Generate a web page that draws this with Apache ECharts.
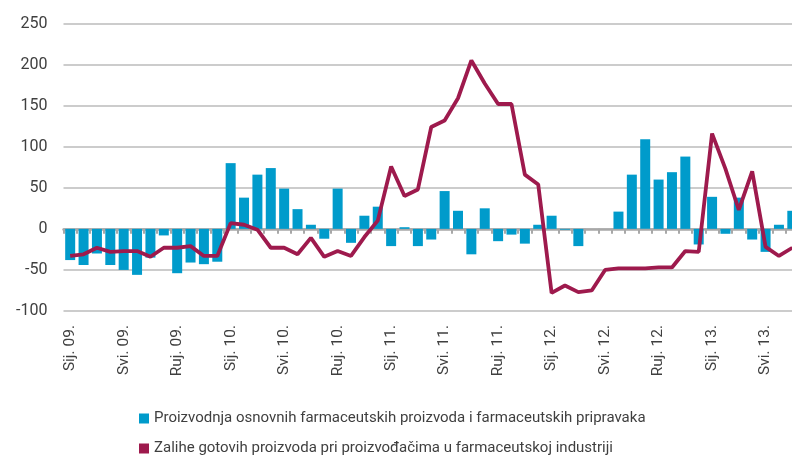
<!DOCTYPE html>
<html>
<head>
<meta charset="utf-8">
<script src="https://cdn.jsdelivr.net/npm/echarts@6/dist/echarts.min.js"></script>
<style>
  html, body { margin: 0; padding: 0; background: #fff; overflow: hidden; }
  /* plot runs a bit past the right edge, like the cropped original */
  #chart { width: 799px; height: 455px; }
</style>
</head>
<body>
<div id="chart"></div>
<script>
// mjeseci sij. 2009 - srp. 2013
const months = ['Sij.', 'Velj.', 'Ožu.', 'Tra.', 'Svi.', 'Lip.', 'Srp.', 'Kol.', 'Ruj.', 'Lis.', 'Stu.', 'Pro.']
const years = ['09', '10', '11', '12', '13']
const categories = []
years.forEach((y) => {
  months.forEach((m) => {
    if (categories.length < 55) categories.push(m + ' ' + y + '.')
  })
})

// stupci - proizvodnja
const proizvodnja = [
  -38, -44, -30, -44, -50, -56, -35, -8, -54, -41, -43, -40,
  80, 38, 66, 74, 49, 24, 5, -12, 49, -17, 16, 27,
  -21, 2, -21, -13, 46, 22, -31, 25, -15, -7, -18, 5,
  16, -1, -21, 0, 0, 21, 66, 109, 60, 69, 88, -19,
  39, -6, 38, -13, -28, 5, 22
]

// linija - zalihe
const zalihe = [
  -33, -31, -23, -28, -27, -27, -34, -23, -23, -21, -33, -33,
  7, 5, -1, -23, -23, -31, -11, -34, -27, -33, -10, 10,
  76, 40, 48, 124, 132, 159, 205, 177, 152, 152, 66, 54,
  -78, -69, -77, -75, -50, -48, -48, -48, -47, -47, -27, -28,
  116, 73, 23, 70, -22, -33, -23
]

const seriesNames = [
  'Proizvodnja osnovnih farmaceutskih proizvoda i farmaceutskih pripravaka',
  'Zalihe gotovih proizvoda pri proizvođačima u farmaceutskoj industriji'
]

const textColor = '#3f3f3f'
const fontFamily = 'Roboto, sans-serif'

const myChart = echarts.init(document.getElementById('chart'), null, { renderer: 'canvas' })

const myOption = {
  backgroundColor: '#fff',
  animation: false,
  grid: {
    left: 63.5,
    right: 0,
    top: 23.5,
    bottom: 144
  },
  legend: {
    orient: 'vertical',
    left: 134,
    top: 406,
    height: 80,
    itemWidth: 10,
    itemHeight: 10,
    itemGap: 15,
    icon: 'rect',
    textStyle: { color: textColor, fontSize: 15, fontFamily: fontFamily },
    data: seriesNames
  },
  xAxis: [
    {
      // os na nuli s kvačicama
      type: 'category',
      data: categories,
      axisLine: { onZero: true, lineStyle: { color: '#a8a8a8', width: 2.5 } },
      axisTick: { show: true, interval: 0, length: 5, lineStyle: { color: '#a8a8a8', width: 2 } },
      axisLabel: { show: false },
      splitLine: { show: false }
    },
    {
      // oznake na dnu
      type: 'category',
      position: 'bottom',
      data: categories,
      axisLine: { show: false, onZero: false },
      axisTick: { show: false },
      axisLabel: {
        interval: 3,
        rotate: 90,
        margin: 14,
        color: textColor,
        fontSize: 15.5,
        fontFamily: fontFamily
      }
    }
  ],
  yAxis: {
    type: 'value',
    min: -100,
    max: 250,
    interval: 50,
    axisLine: { show: false },
    axisTick: { show: false },
    axisLabel: { color: textColor, fontSize: 16, fontFamily: fontFamily, margin: 16 },
    splitLine: { lineStyle: { color: '#cccccc', width: 2 } }
  },
  series: [
    {
      name: seriesNames[0],
      type: 'bar',
      xAxisIndex: 0,
      data: proizvodnja,
      barWidth: 10,
      itemStyle: { color: '#009bcb' }
    },
    {
      name: seriesNames[1],
      type: 'line',
      xAxisIndex: 0,
      data: zalihe,
      symbol: 'none',
      lineStyle: { color: '#9e1a4d', width: 3.8 },
      itemStyle: { color: '#9e1a4d' }
    }
  ]
}
myChart.setOption(myOption)
</script>
</body>
</html>
